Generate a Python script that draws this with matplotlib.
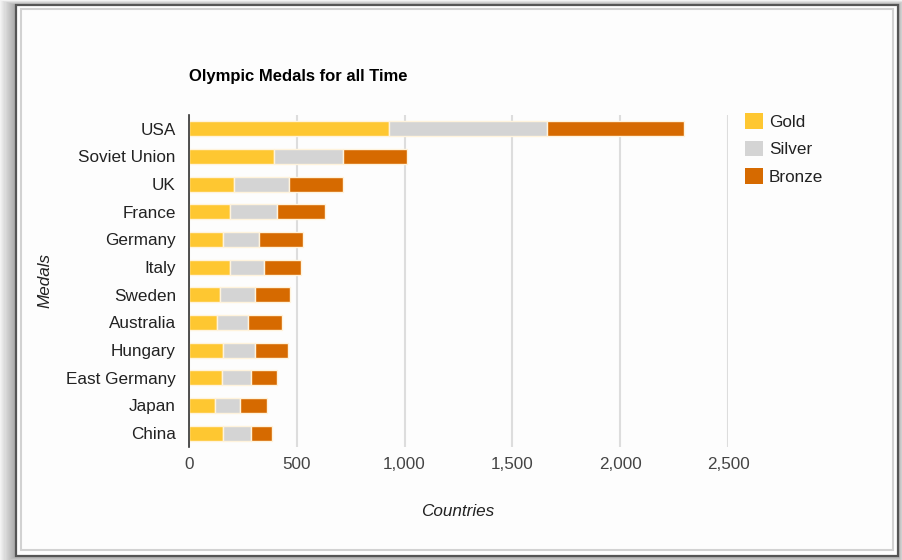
import matplotlib
matplotlib.use("Agg")
import matplotlib.pyplot as plt
from matplotlib.patches import Rectangle, Patch
import numpy as np

# ---- data ----
countries = ['USA', 'Soviet Union', 'UK', 'France', 'Germany', 'Italy',
             'Sweden', 'Australia', 'Hungary', 'East Germany', 'Japan', 'China']
gold = [929, 395, 207, 191, 159, 190, 142, 128, 159, 155, 122, 160]
silver = [730, 319, 255, 216, 166, 158, 162, 144, 146, 131, 115, 128]
bronze = [638, 296, 252, 226, 206, 171, 165, 159, 155, 123, 125, 96]
series_names = ['Gold', 'Silver', 'Bronze']
x_ticks = [0, 500, 1000, 1500, 2000, 2500]
x_tick_labels = ['0', '500', '1,000', '1,500', '2,000', '2,500']

colors = ['#FEC731', '#D4D4D4', '#D66A00']

plt.rcParams['font.family'] = ['Liberation Sans', 'DejaVu Sans']

W, H = 902, 560
fig = plt.figure(figsize=(W / 100, H / 100), dpi=100)
fig.patch.set_facecolor('white')

def fx(x):
    return x / W

def fy(y):
    return 1 - y / H

# ---- window frame with soft shadow ----
for i in range(16, 0, -1):
    l = 16 - i * 1.05
    t = 5 - i * 0.3
    r = 898 + i * 0.4
    b = 556 + i * 0.5
    fig.patches.append(Rectangle((fx(l), fy(b)), fx(r) - fx(l), fy(t) - fy(b),
                                 transform=fig.transFigure, facecolor='#000000',
                                 edgecolor='none', alpha=0.025, zorder=-10))
fig.patches.append(Rectangle((fx(16), fy(556)), fx(898) - fx(16), fy(5) - fy(556),
                             transform=fig.transFigure, facecolor='#FDFDFD',
                             edgecolor='#555555', linewidth=1.6, zorder=-9))
fig.patches.append(Rectangle((fx(20.5), fy(550)), fx(893) - fx(20.5), fy(9) - fy(550),
                             transform=fig.transFigure, facecolor='#FDFDFD',
                             edgecolor='#D2D2D2', linewidth=1.5, zorder=-8))

# ---- axes ----
ax = fig.add_axes([fx(189), fy(447), fx(728) - fx(189), fy(115) - fy(447)])
ax.set_facecolor('none')

y = np.arange(len(countries))
left = np.zeros(len(countries))
handles = []
for name, vals, c in zip(series_names, [gold, silver, bronze], colors):
    ax.barh(y, vals, left=left, height=0.55, color=c, edgecolor='#FFF3DC',
            linewidth=1.0, zorder=3)
    left = left + np.array(vals)
    handles.append(Patch(facecolor=c, edgecolor='none', label=name))

ax.set_ylim(len(countries) - 0.5, -0.5)
ax.set_xlim(0, 2500)
ax.set_xticks(x_ticks)
ax.set_xticklabels(x_tick_labels)
ax.set_yticks(y)
ax.set_yticklabels(countries)

ax.grid(axis='x', color='#DDDDDD', linewidth=1.5, zorder=0)
ax.set_axisbelow(True)
for s in ['top', 'right', 'bottom']:
    ax.spines[s].set_visible(False)
ax.spines['left'].set_color('#333333')
ax.spines['left'].set_linewidth(1.2)
ax.spines['left'].set_zorder(4)
ax.tick_params(axis='both', length=0)
ax.tick_params(axis='x', pad=7.5, labelsize=12.3, labelcolor='#444444')
ax.tick_params(axis='y', pad=9.5, labelsize=12.3, labelcolor='#222222')

# ---- texts ----
fig.text(fx(189), fy(77), 'Olympic Medals for all Time', fontsize=12, fontweight='bold',
         color='#000000', ha='left', va='center')
fig.text(fx(458), fy(511), 'Countries', fontsize=12.3, fontstyle='italic',
         color='#222222', ha='center', va='center')
fig.text(fx(45), fy(280), 'Medals', fontsize=12.3, fontstyle='italic',
         color='#222222', ha='center', va='center', rotation=90)

# ---- legend ----
fig.legend(handles=handles, loc='upper left', bbox_to_anchor=(fx(745), fy(113)),
           frameon=False, fontsize=12.3, handlelength=1.05, handleheight=1.05,
           handletextpad=0.35, labelspacing=0.63, borderaxespad=0, borderpad=0,
           labelcolor='#222222')

fig.savefig('out.png', dpi=100, facecolor='white')
